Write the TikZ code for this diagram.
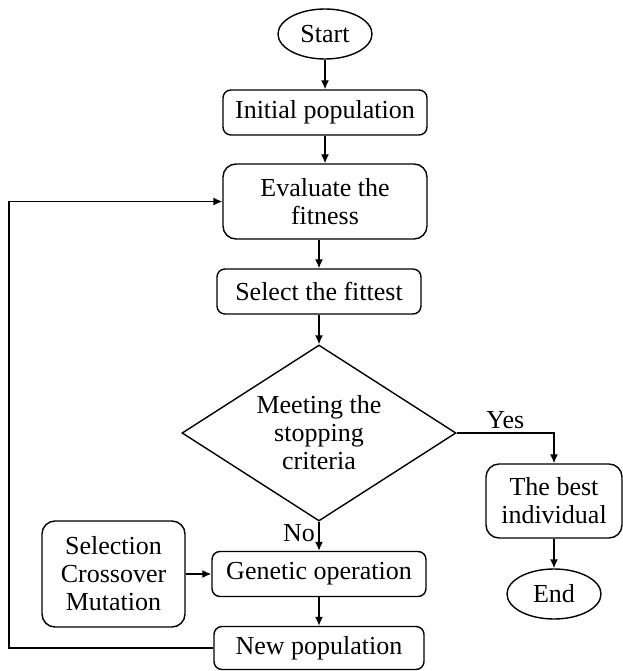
\documentclass[tikz,border=0pt]{standalone}
\usepackage{fontspec}
\setmainfont{Liberation Serif}
\usetikzlibrary{shapes.geometric,arrows.meta}
\tikzset{
  box/.style={draw, rounded corners=8pt, inner sep=0pt, align=center},
  bigbox/.style={box, rounded corners=13pt},
  oval/.style={draw, ellipse, inner sep=0pt, minimum width=94pt, minimum height=50pt},
  decide/.style={draw, diamond, aspect=1.56, inner sep=0pt, align=center, minimum width=274pt, minimum height=176pt},
}
\begin{document}
\begin{tikzpicture}[x=1pt,y=-1pt,line width=1.4pt,
  font=\fontsize{26}{28}\selectfont,>={Latex[length=9pt,width=8pt]}]
      \useasboundingbox (0,0) rectangle (622,671);
      \draw
        (325,34) node[oval] (start){Start}
        (325,112.5) node[box,minimum width=204pt,minimum height=45pt] (init){Initial population}
        (325,201.5) node[bigbox,minimum width=204pt,minimum height=75pt] (eval){Evaluate the\\fitness}
        (319,291.5) node[box,minimum width=204pt,minimum height=45pt] (select){Select the fittest}
        (319,433) node[decide] (crit){Meeting the\\stopping\\criteria}
        (554,501) node[bigbox,minimum width=136pt,minimum height=74pt] (best){The best\\individual}
        (554,594) node[oval] (end){End}
        (319,574) node[box,minimum width=214pt,minimum height=45pt] (genop){Genetic operation}
        (113.5,574) node[bigbox,minimum width=143pt,minimum height=106pt] (ops){Selection\\Crossover\\Mutation}
        (319,648) node[box,minimum width=210pt,minimum height=43pt] (newpop){New population};
      \coordinate (loop) at (9,648);
      \begin{scope}[->]
        \draw (start) to (init);
        \draw (init) to (eval);
        \draw (eval.south -| select) to (select);
        \draw (select) to (crit);
        \draw (crit) -| node[pos=0.25,above] (yes){Yes} (best);
        \draw (crit) to node[pos=0.4,left] (no){No} (genop);
        \draw (ops) to (genop);
        \draw (genop) to (newpop);
        \draw (best) to (end);
        \draw (newpop) -- (loop) |- (eval);
      \end{scope}
    \end{tikzpicture}
\end{document}
